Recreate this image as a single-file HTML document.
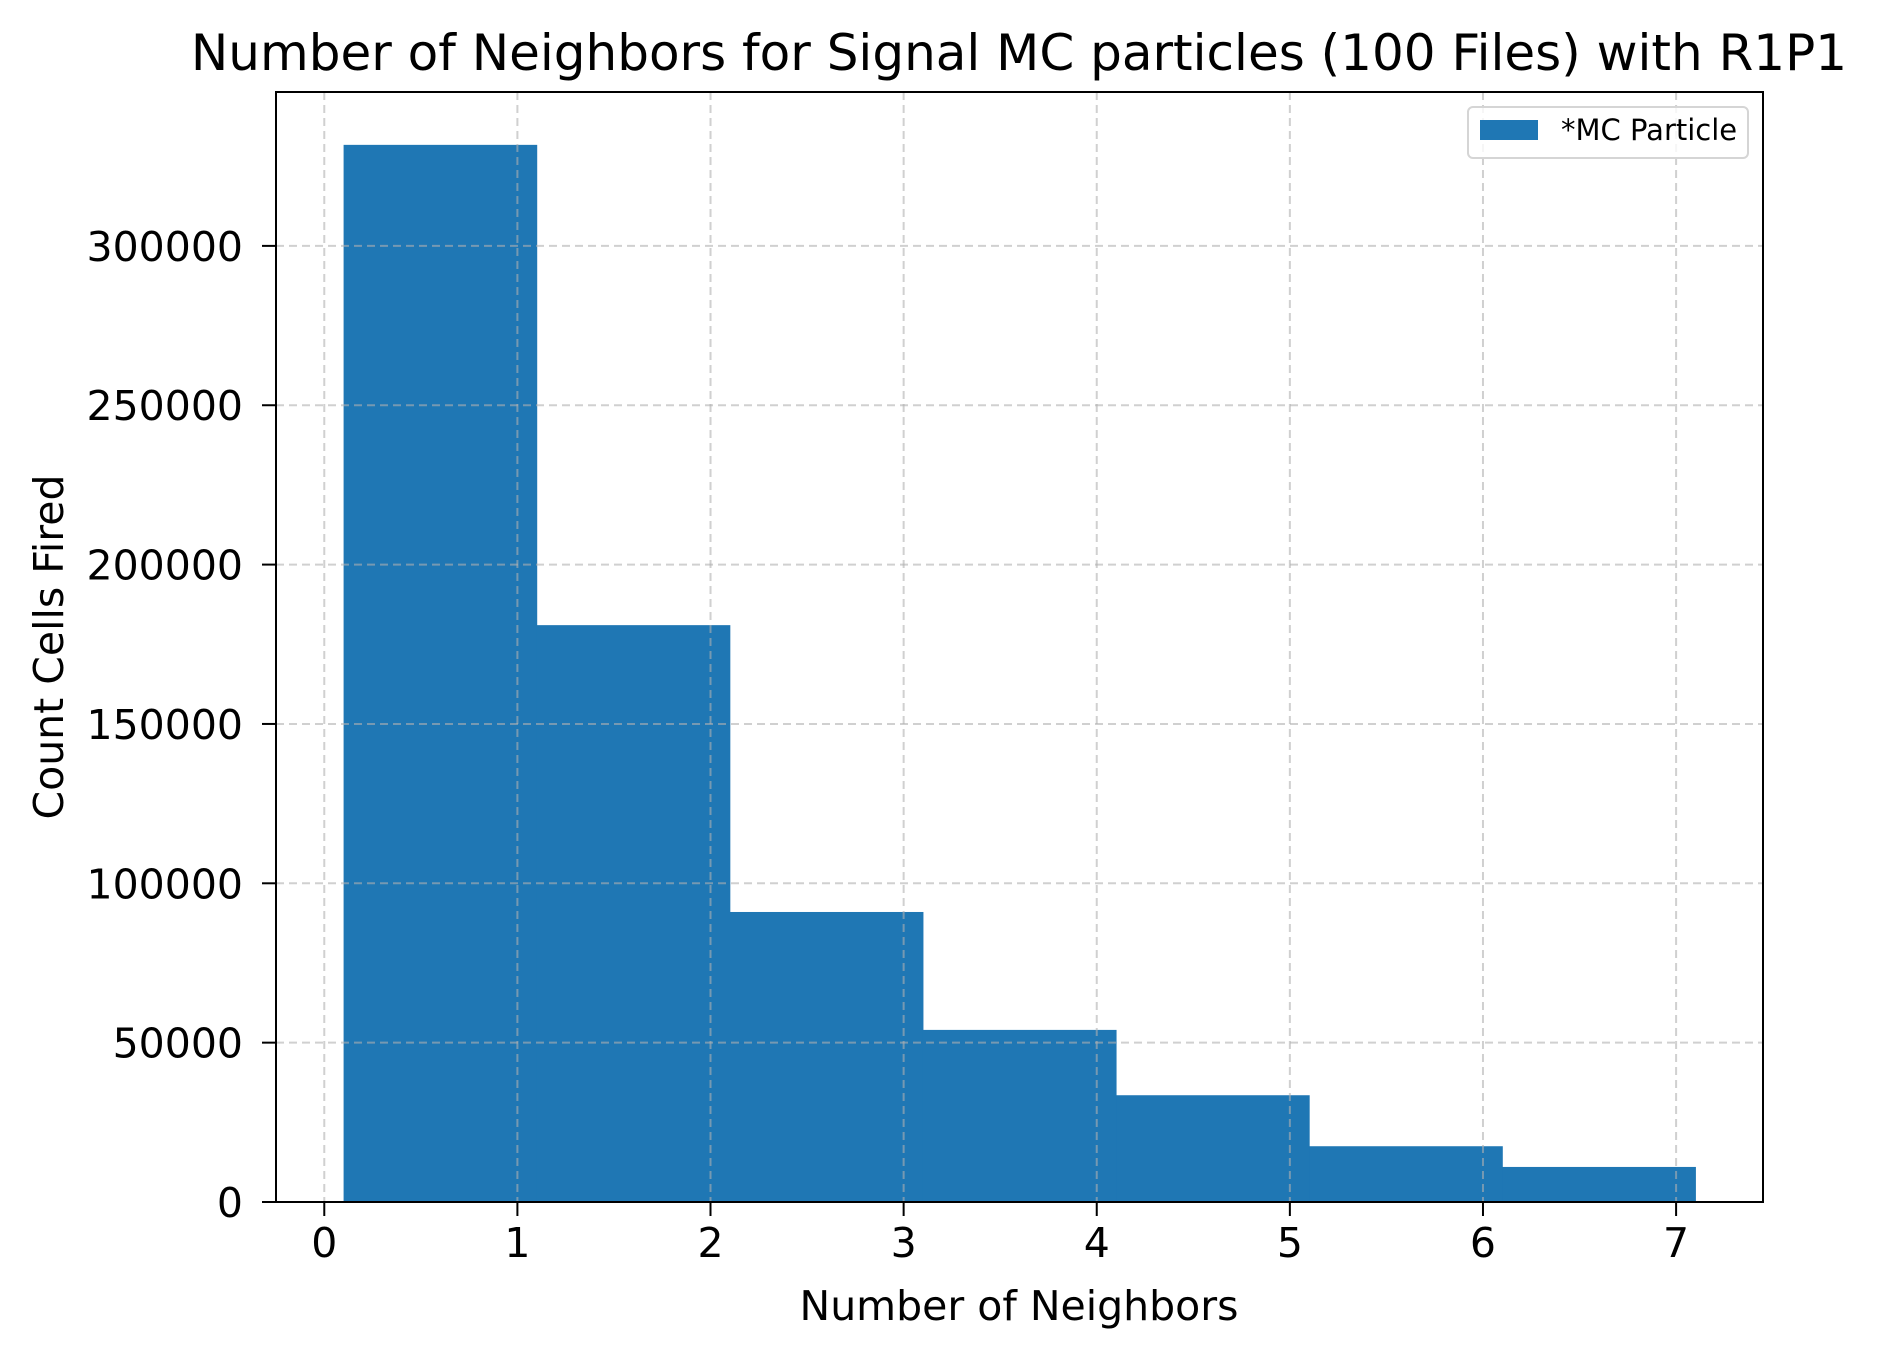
<!DOCTYPE html>
<html><head><meta charset="utf-8">
<style>
html,body{margin:0;padding:0;background:#fff;}
svg{display:block;font-family:"DejaVu Sans","Liberation Sans",sans-serif;}
</style></head>
<body>
<svg id="chart" width="1877" height="1357" viewBox="0 0 1877 1357" xmlns="http://www.w3.org/2000/svg">
<rect width="1877" height="1357" fill="#fff"/>
<text x="1019" y="70" font-size="50" text-anchor="middle">Number of Neighbors for Signal MC particles (100 Files) with R1P1</text>
<text x="1019" y="1320" font-size="41" text-anchor="middle">Number of Neighbors</text>
<text x="0" y="0" font-size="41" text-anchor="middle" transform="translate(63,647) rotate(-90)">Count Cells Fired</text>
<g id="bars"></g>
<g id="grid"></g>
<g id="axes"></g>
<g>
<rect x="1468" y="107" width="280" height="51" rx="5" fill="#fff" fill-opacity="0.8" stroke="#d5d5d5" stroke-width="2"/>
<rect x="1480" y="120" width="58" height="20" fill="#1f77b4"/>
<text x="1561" y="140" font-size="29">*MC Particle</text>
</g>
</svg>
<script>
const binStarts = [0.1, 1.1, 2.1, 3.1, 4.1, 5.1, 6.1];
const binWidth = 1;
const counts = [331700, 181000, 91000, 54000, 33500, 17500, 11000];
const xTicks = [0, 1, 2, 3, 4, 5, 6, 7];
const yTicks = [0, 50000, 100000, 150000, 200000, 250000, 300000];

const L = 276, R = 1763, T = 92, B = 1202;
const NS = "http://www.w3.org/2000/svg";
const xMinD = binStarts[0], xMaxD = binStarts[binStarts.length-1] + binWidth;
const pad = (xMaxD - xMinD) * 0.05;
const x0 = xMinD - pad, x1 = xMaxD + pad;
const yMax = Math.max(...counts) * 1.05;
function sx(v){ return L + (v - x0) / (x1 - x0) * (R - L); }
function sy(v){ return B - v / yMax * (B - T); }
function mk(tag, attrs, parent){
  const e = document.createElementNS(NS, tag);
  for (const k in attrs) e.setAttribute(k, attrs[k]);
  parent.appendChild(e);
  return e;
}
const bars = document.getElementById('bars');
counts.forEach((c, i) => {
  const xa = sx(binStarts[i]), xb = sx(binStarts[i] + binWidth);
  const r = mk('rect', {x: xa, y: sy(c), width: xb - xa + 0.5, height: B - sy(c), fill: '#1f77b4'}, bars);
  
  
});
const grid = document.getElementById('grid');
xTicks.forEach(t => {
  const l = mk('line', {x1: sx(t), x2: sx(t), y1: T, y2: B, stroke: '#b0b0b0', 'stroke-opacity': 0.6, 'stroke-width': 2, 'stroke-dasharray': '8,5'}, grid);
  
  
});
yTicks.forEach(t => {
  const l = mk('line', {x1: L, x2: R, y1: sy(t), y2: sy(t), stroke: '#b0b0b0', 'stroke-opacity': 0.6, 'stroke-width': 2, 'stroke-dasharray': '8,5'}, grid);
  
  
});
const axes = document.getElementById('axes');
const frame = mk('rect', {x: L, y: T, width: R - L, height: B - T, fill: 'none', stroke: '#000', 'stroke-width': 2}, axes);


xTicks.forEach(t => {
  mk('line', {x1: sx(t), x2: sx(t), y1: B, y2: B + 14, stroke: '#000', 'stroke-width': 2}, axes);
  const tx = mk('text', {x: sx(t), y: B + 55, 'font-size': 41, 'text-anchor': 'middle'}, axes);
  tx.textContent = t;
  
  
});
yTicks.forEach(t => {
  mk('line', {x1: L - 14, x2: L, y1: sy(t), y2: sy(t), stroke: '#000', 'stroke-width': 2}, axes);
  const tx = mk('text', {x: L - 33, y: sy(t) + 15, 'font-size': 41, 'text-anchor': 'end'}, axes);
  tx.textContent = t;
  
  
});
</script>
</body></html>
